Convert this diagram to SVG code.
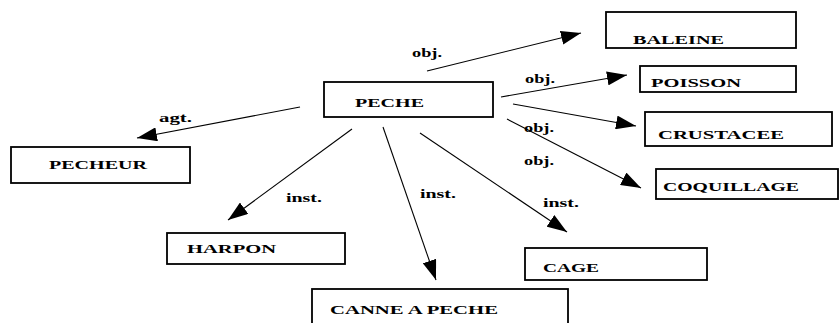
<svg xmlns="http://www.w3.org/2000/svg" width="840" height="323" viewBox="0 0 840 323">
<defs>
<marker id="ah" markerUnits="userSpaceOnUse" markerWidth="21" markerHeight="14" refX="20" refY="7" orient="auto">
<path d="M0,0 L20,7 L0,14 Z" fill="#000"/>
</marker>
<style>
.box{fill:#fff;stroke:#000;stroke-width:1.8}
.t{font-family:"Liberation Serif","Times New Roman",serif;font-weight:bold;font-size:13.5px;fill:#000}
.c{stroke:#000;stroke-width:1.1;fill:none;marker-end:url(#ah)}
</style>
</defs>
<rect width="840" height="323" fill="#fff"/>
<g id="connectors">
<line class="c" x1="300" y1="107" x2="137" y2="138"/>
<line class="c" x1="427" y1="71" x2="581" y2="33"/>
<line class="c" x1="501" y1="97" x2="627" y2="75"/>
<line class="c" x1="513" y1="104" x2="636" y2="126"/>
<line class="c" x1="507" y1="119" x2="641" y2="188"/>
<line class="c" x1="352" y1="129" x2="228" y2="220"/>
<line class="c" x1="383" y1="127" x2="436" y2="280"/>
<line class="c" x1="420" y1="133" x2="567" y2="232"/>
<text class="t" x="159" y="122" textLength="33" lengthAdjust="spacingAndGlyphs">agt.</text>
<text class="t" x="412" y="57" textLength="30" lengthAdjust="spacingAndGlyphs">obj.</text>
<text class="t" x="525" y="83" textLength="30" lengthAdjust="spacingAndGlyphs">obj.</text>
<text class="t" x="524" y="132" textLength="30" lengthAdjust="spacingAndGlyphs">obj.</text>
<text class="t" x="524" y="165" textLength="30" lengthAdjust="spacingAndGlyphs">obj.</text>
<text class="t" x="286" y="202" textLength="36" lengthAdjust="spacingAndGlyphs">inst.</text>
<text class="t" x="420" y="198" textLength="36" lengthAdjust="spacingAndGlyphs">inst.</text>
<text class="t" x="543" y="207" textLength="36" lengthAdjust="spacingAndGlyphs">inst.</text>
</g>
<g id="peche"><rect class="box" x="324" y="82" width="169" height="35"/><text class="t" x="355" y="107" textLength="69" lengthAdjust="spacingAndGlyphs">PECHE</text></g>
<g id="baleine"><rect class="box" x="606" y="12" width="190" height="36"/><text class="t" x="633" y="44" textLength="91" lengthAdjust="spacingAndGlyphs">BALEINE</text></g>
<g id="poisson"><rect class="box" x="640" y="66" width="156" height="26"/><text class="t" x="651" y="87" textLength="90" lengthAdjust="spacingAndGlyphs">POISSON</text></g>
<g id="crustacee"><rect class="box" x="645" y="112" width="187" height="34"/><text class="t" x="658" y="139" textLength="126" lengthAdjust="spacingAndGlyphs">CRUSTACEE</text></g>
<g id="coquillage"><rect class="box" x="656" y="169" width="182" height="30"/><text class="t" x="663" y="191" textLength="136" lengthAdjust="spacingAndGlyphs">COQUILLAGE</text></g>
<g id="pecheur"><rect class="box" x="11" y="147" width="179" height="36"/><text class="t" x="49" y="169" textLength="98" lengthAdjust="spacingAndGlyphs">PECHEUR</text></g>
<g id="harpon"><rect class="box" x="167" y="233" width="178" height="31"/><text class="t" x="187" y="253" textLength="89" lengthAdjust="spacingAndGlyphs">HARPON</text></g>
<g id="cage"><rect class="box" x="525" y="248" width="182" height="32"/><text class="t" x="543" y="272" textLength="56" lengthAdjust="spacingAndGlyphs">CAGE</text></g>
<g id="canne"><rect class="box" x="312" y="289" width="256" height="50"/><text class="t" x="330" y="314" textLength="168" lengthAdjust="spacingAndGlyphs">CANNE A PECHE</text></g>
</svg>
